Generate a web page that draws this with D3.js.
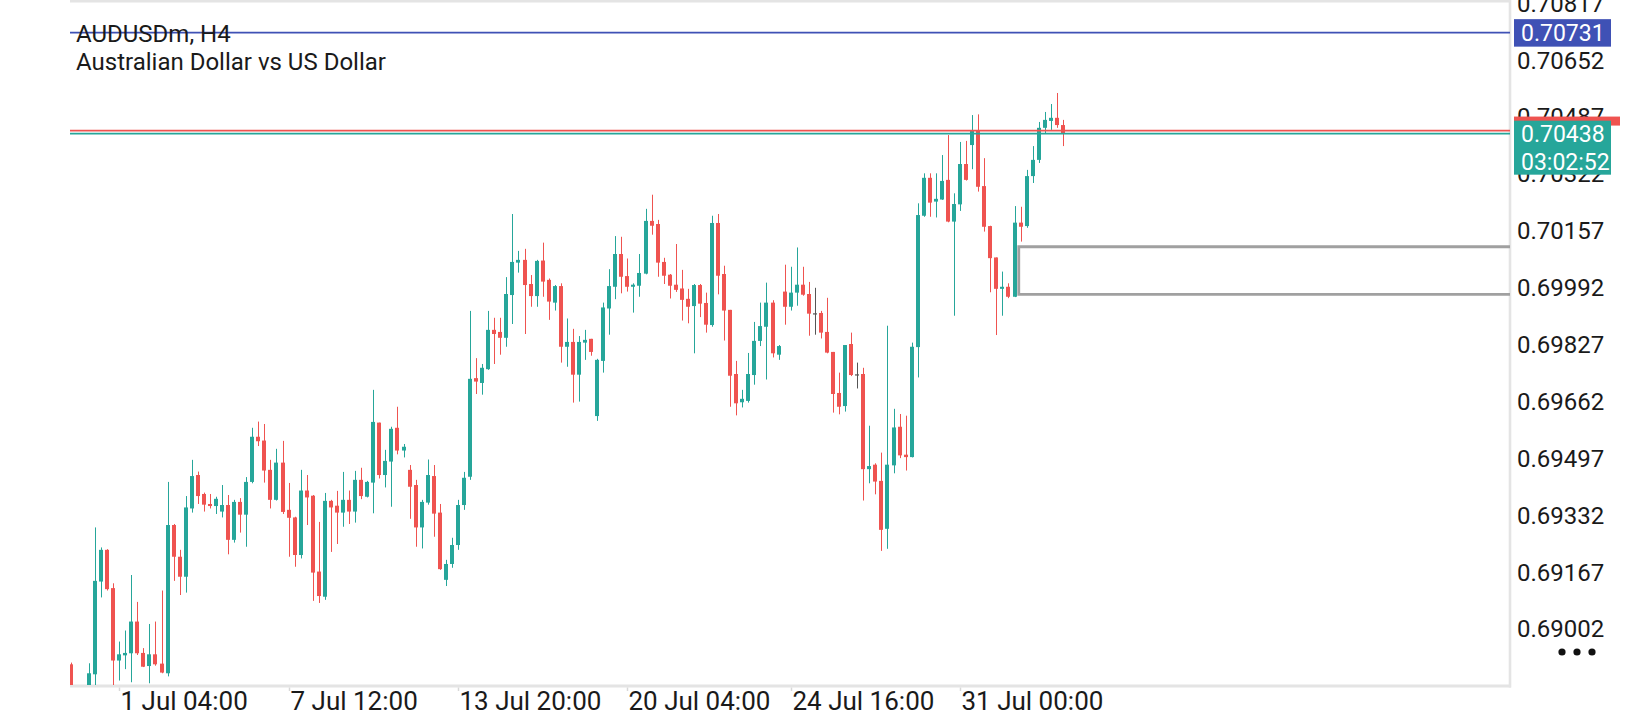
<!DOCTYPE html>
<html><head><meta charset="utf-8">
<script src="https://cdn.jsdelivr.net/npm/d3@7/dist/d3.min.js"></script>
<style>html,body{margin:0;padding:0;background:#fff;overflow:hidden}svg{display:block}</style>
</head><body>
<svg id="chart" width="1640" height="720"></svg>
<script>
const symbolName = "AUDUSDm, H4";
const symbolDescription = "Australian Dollar vs US Dollar";

const open = [0.68899,0.68825,0.68810,0.68825,0.68870,0.69139,0.69231,0.69120,0.68910,0.68925,
0.68931,0.69023,0.68932,0.68894,0.68928,0.68901,0.68873,0.69303,0.69211,0.69153,
0.69351,0.69448,0.69393,0.69364,0.69358,0.69342,0.69361,0.69260,0.69370,0.69333,
0.69428,0.69559,0.69548,0.69463,0.69376,0.69484,0.69347,0.69325,0.69216,0.69403,
0.69388,0.69168,0.69095,0.69373,0.69359,0.69339,0.69376,0.69342,0.69434,0.69385,
0.69426,0.69600,0.69448,0.69487,0.69585,0.69519,0.69463,0.69419,0.69296,0.69368,
0.69445,0.69339,0.69144,0.69190,0.69245,0.69361,0.69443,0.69729,0.69715,0.69755,
0.69869,0.69863,0.69846,0.69970,0.70064,0.70072,0.70002,0.69967,0.70070,0.70014,
0.69948,0.69996,0.69820,0.69834,0.69739,0.69832,0.69843,0.69619,0.69779,0.69931,
0.69994,0.70089,0.70025,0.69994,0.69997,0.70032,0.70185,0.70176,0.70066,0.70029,
0.70000,0.69989,0.69959,0.69938,0.69999,0.69947,0.69883,0.70179,0.70031,0.69927,
0.69741,0.69659,0.69663,0.69738,0.69837,0.69878,0.69948,0.69797,0.69980,0.69936,
0.69977,0.70000,0.69973,0.69917,0.69918,0.69863,0.69805,0.69686,0.69648,0.69828,
0.69740,0.69741,0.69465,0.69478,0.69431,0.69292,0.69476,0.69588,0.69507,0.69500,
0.69819,0.70200,0.70310,0.70241,0.70247,0.70304,0.70183,0.70233,0.70350,0.70405,
0.70447,0.70286,0.70170,0.70079,0.69988,0.69994,0.69965,0.70180,0.70170,0.70315,
0.70362,0.70455,0.70475,0.70484,0.70463];

const high = [0.68904,0.68834,0.68831,0.68902,0.69296,0.69238,0.69233,0.69134,0.68965,0.68997,
0.69158,0.69080,0.68946,0.69016,0.69023,0.69113,0.69428,0.69306,0.69231,0.69387,
0.69492,0.69458,0.69397,0.69393,0.69385,0.69419,0.69390,0.69376,0.69381,0.69442,
0.69585,0.69603,0.69596,0.69492,0.69524,0.69547,0.69425,0.69327,0.69463,0.69448,
0.69390,0.69312,0.69396,0.69376,0.69402,0.69457,0.69403,0.69460,0.69469,0.69431,
0.69695,0.69600,0.69521,0.69588,0.69646,0.69538,0.69477,0.69434,0.69376,0.69493,
0.69477,0.69364,0.69202,0.69266,0.69376,0.69457,0.69924,0.69787,0.69770,0.69924,
0.69904,0.69904,0.70022,0.70205,0.70098,0.70104,0.70028,0.70072,0.70122,0.70018,
0.69999,0.70004,0.69902,0.69872,0.69851,0.69869,0.69843,0.69785,0.69948,0.70045,
0.70141,0.70139,0.70076,0.70004,0.70089,0.70220,0.70261,0.70188,0.70078,0.70031,
0.70118,0.70043,0.69988,0.70002,0.70002,0.69977,0.70200,0.70205,0.70055,0.69927,
0.69779,0.69695,0.69802,0.69892,0.69948,0.70006,0.69955,0.69825,0.70058,0.70052,
0.70108,0.70052,0.70008,0.69991,0.69924,0.69962,0.69805,0.69745,0.69825,0.69861,
0.69774,0.69759,0.69591,0.69482,0.69513,0.69881,0.69640,0.69625,0.69620,0.69832,
0.70236,0.70323,0.70323,0.70323,0.70376,0.70434,0.70265,0.70414,0.70417,0.70492,
0.70494,0.70367,0.70171,0.70079,0.70038,0.70004,0.70228,0.70226,0.70333,0.70402,
0.70472,0.70501,0.70524,0.70556,0.70478];

const low = [0.68810,0.68796,0.68790,0.68813,0.68831,0.69093,0.69113,0.68825,0.68852,0.68885,
0.68847,0.68926,0.68891,0.68844,0.68895,0.68873,0.68864,0.69141,0.69100,0.69107,
0.69339,0.69364,0.69342,0.69351,0.69335,0.69325,0.69218,0.69252,0.69281,0.69240,
0.69424,0.69532,0.69426,0.69351,0.69374,0.69335,0.69211,0.69182,0.69206,0.69303,
0.69083,0.69077,0.69086,0.69225,0.69248,0.69298,0.69306,0.69310,0.69378,0.69383,
0.69337,0.69438,0.69412,0.69356,0.69508,0.69499,0.69321,0.69240,0.69235,0.69362,
0.69269,0.69173,0.69126,0.69179,0.69231,0.69347,0.69434,0.69683,0.69681,0.69753,
0.69770,0.69797,0.69820,0.69886,0.70035,0.69857,0.69936,0.69936,0.69965,0.69898,
0.69925,0.69774,0.69762,0.69658,0.69661,0.69782,0.69794,0.69605,0.69745,0.69855,
0.69958,0.69975,0.69980,0.69919,0.69965,0.70030,0.70145,0.70023,0.70002,0.69960,
0.69979,0.69896,0.69888,0.69801,0.69906,0.69861,0.69878,0.69972,0.69838,0.69646,
0.69621,0.69644,0.69658,0.69710,0.69822,0.69725,0.69789,0.69782,0.69884,0.69925,
0.69939,0.69968,0.69852,0.69855,0.69844,0.69801,0.69629,0.69624,0.69632,0.69735,
0.69699,0.69374,0.69424,0.69392,0.69228,0.69234,0.69453,0.69497,0.69461,0.69499,
0.69731,0.70197,0.70197,0.70195,0.70246,0.70181,0.69910,0.70214,0.70302,0.70335,
0.70270,0.70154,0.69978,0.69854,0.69910,0.69961,0.69964,0.70125,0.70165,0.70295,
0.70353,0.70440,0.70449,0.70455,0.70402];

const close = [0.68825,0.68810,0.68819,0.68873,0.69141,0.69231,0.69117,0.68910,0.68928,0.68932,
0.69023,0.68931,0.68892,0.68928,0.68899,0.68875,0.69303,0.69211,0.69153,0.69354,
0.69445,0.69387,0.69362,0.69358,0.69379,0.69361,0.69260,0.69370,0.69333,0.69428,
0.69559,0.69546,0.69461,0.69376,0.69484,0.69341,0.69324,0.69216,0.69403,0.69383,
0.69165,0.69097,0.69373,0.69354,0.69339,0.69376,0.69342,0.69434,0.69387,0.69428,
0.69602,0.69448,0.69489,0.69582,0.69519,0.69530,0.69414,0.69296,0.69370,0.69448,
0.69336,0.69175,0.69190,0.69245,0.69361,0.69440,0.69727,0.69719,0.69759,0.69869,
0.69857,0.69846,0.69973,0.70066,0.70072,0.69999,0.69967,0.70069,0.70009,0.69951,
0.69996,0.69820,0.69834,0.69739,0.69834,0.69840,0.69805,0.69782,0.69934,0.69996,
0.70089,0.70023,0.69994,0.70000,0.70034,0.70185,0.70171,0.70064,0.70026,0.69997,
0.69985,0.69956,0.69936,0.69999,0.69945,0.69884,0.70179,0.70026,0.69925,0.69736,
0.69656,0.69669,0.69741,0.69837,0.69880,0.69948,0.69801,0.69822,0.69936,0.69977,
0.70000,0.69971,0.69916,0.69917,0.69861,0.69803,0.69683,0.69646,0.69825,0.69738,
0.69740,0.69465,0.69474,0.69429,0.69289,0.69478,0.69586,0.69505,0.69500,0.69820,
0.70202,0.70310,0.70238,0.70249,0.70301,0.70183,0.70234,0.70350,0.70304,0.70447,
0.70284,0.70168,0.70077,0.69988,0.69994,0.69965,0.70180,0.70168,0.70315,0.70362,
0.70455,0.70478,0.70484,0.70463,0.70438];

const priceTicks = [0.70817,0.70652,0.70487,0.70322,0.70157,0.69992,0.69827,0.69662,0.69497,0.69332,0.69167,0.69002];
const timeTickBars = [8, 36, 64, 92, 119, 147];
const timeTickLabels = ["1 Jul 04:00","7 Jul 12:00","13 Jul 20:00","20 Jul 04:00","24 Jul 16:00","31 Jul 00:00"];

const bidPrice = 0.70438;
const askPrice = 0.70447;
const alertPrice = 0.70731;
const countdown = "03:02:52";
const zoneTop = 0.70110;
const zoneBottom = 0.69972;
const zoneStartBar = 156.7;

const visibleBars = [-0.13, 237.9];
const visiblePrices = [0.68839, 0.70817];

// ---- layout & style ----
const L = 70, R = 1510, T = 3, B = 685;
const GREEN = "#26a69a", RED = "#ef5350", BLUE = "#3f51b5", GRID = "#e4e4e4";
const FONT = "Roboto, 'Noto Sans', sans-serif";
const fmt = d3.format(".5f");

const svg = d3.select("#chart");
const x = d3.scaleLinear().domain(visibleBars).range([L, R]);
const y = d3.scaleLinear().domain(visiblePrices).range([B, T]);

svg.append("defs").append("clipPath").attr("id","plot")
  .append("rect").attr("x",L).attr("y",T).attr("width",R-L).attr("height",B-T);

// frame
svg.append("line").attr("x1",L).attr("x2",R).attr("y1",1.3).attr("y2",1.3).attr("stroke",GRID).attr("stroke-width",2.6);
svg.append("line").attr("x1",L).attr("x2",R+1).attr("y1",B+1).attr("y2",B+1).attr("stroke",GRID).attr("stroke-width",3);
svg.append("line").attr("x1",R).attr("x2",R).attr("y1",0).attr("y2",B+2.5).attr("stroke",GRID).attr("stroke-width",2.6);

// time axis ticks + labels
const xa = svg.append("g");
timeTickBars.forEach((b,i)=>{
  const tx = Math.round(x(b)) + 0.5;
  xa.append("line").attr("x1",tx).attr("x2",tx).attr("y1",B+2.5).attr("y2",B+6).attr("stroke","#d8d8d8").attr("stroke-width",1.5);
  xa.append("text").attr("x",tx+1).attr("y",710).attr("font-family",FONT).attr("font-size",26)
    .attr("fill","#1a1a1a").text(timeTickLabels[i]);
});

// candles
const idx = d3.range(open.length);
const cg = svg.append("g").attr("clip-path","url(#plot)");
const colorOf = i => close[i] > open[i] ? GREEN : (close[i] < open[i] ? RED : "#555555");
cg.selectAll("line.wick").data(idx).join("line").attr("class","wick")
  .attr("x1",i=>Math.round(x(i))+0.5).attr("x2",i=>Math.round(x(i))+0.5)
  .attr("y1",i=>y(high[i])).attr("y2",i=>y(low[i]))
  .attr("stroke",colorOf).attr("stroke-width",1);
cg.selectAll("rect.body").data(idx).join("rect").attr("class","body")
  .attr("x",i=>Math.round(x(i))-2).attr("width",4)
  .attr("y",i=>Math.min(y(open[i]),y(close[i])))
  .attr("height",i=>Math.max(1.2,Math.abs(y(open[i])-y(close[i]))))
  .attr("fill",colorOf);

// zone bracket
const zg = svg.append("g").attr("clip-path","url(#plot)");
const zx = x(zoneStartBar);
zg.append("path").attr("d",`M${R},${y(zoneTop)}H${zx}V${y(zoneBottom)}H${R}`)
  .attr("fill","none").attr("stroke","#a0a0a0").attr("stroke-width",2.8);

// price lines
svg.append("line").attr("x1",L).attr("x2",R).attr("y1",y(alertPrice)).attr("y2",y(alertPrice)).attr("stroke",BLUE).attr("stroke-width",1.6);
svg.append("line").attr("x1",L).attr("x2",R).attr("y1",y(askPrice)).attr("y2",y(askPrice)).attr("stroke",RED).attr("stroke-width",1.8);
svg.append("line").attr("x1",L).attr("x2",R).attr("y1",y(bidPrice)).attr("y2",y(bidPrice)).attr("stroke",GREEN).attr("stroke-width",1.8);

// price axis labels
const ya = svg.append("g");
priceTicks.forEach(v=>{
  ya.append("text").attr("x",1517).attr("y",y(v)).attr("dy","0.36em")
    .attr("font-family",FONT).attr("font-size",24).attr("fill","#1a1a1a").text(fmt(v));
});

// price tags
svg.append("rect").attr("x",1514).attr("y",y(askPrice)-14).attr("width",106).attr("height",9).attr("fill",RED);
svg.append("rect").attr("x",1514).attr("y",y(bidPrice)-13).attr("width",97).attr("height",54).attr("fill",GREEN);
svg.append("text").attr("x",1521).attr("y",y(bidPrice)).attr("dy","0.36em").attr("font-family",FONT).attr("font-size",23).attr("fill","#fff").text(fmt(bidPrice));
svg.append("text").attr("x",1521).attr("y",y(bidPrice)+28).attr("dy","0.36em").attr("font-family",FONT).attr("font-size",23).attr("fill","#fff").text(countdown);
svg.append("rect").attr("x",1514).attr("y",y(alertPrice)-13.5).attr("width",97).attr("height",27.5).attr("fill",BLUE);
svg.append("text").attr("x",1521).attr("y",y(alertPrice)).attr("dy","0.36em").attr("font-family",FONT).attr("font-size",23).attr("fill","#fff").text(fmt(alertPrice));

// title
svg.append("text").attr("x",76).attr("y",42).attr("font-family",FONT).attr("font-size",24).attr("fill","#1a1a1a").text(symbolName);
svg.append("text").attr("x",76).attr("y",70).attr("font-family",FONT).attr("font-size",24).attr("fill","#1a1a1a").text(symbolDescription);

// menu dots
svg.append("g").selectAll("circle").data([0,1,2]).join("circle")
  .attr("cx",d=>1562+d*15).attr("cy",652).attr("r",3.6).attr("fill","#111");
</script>
</body></html>
